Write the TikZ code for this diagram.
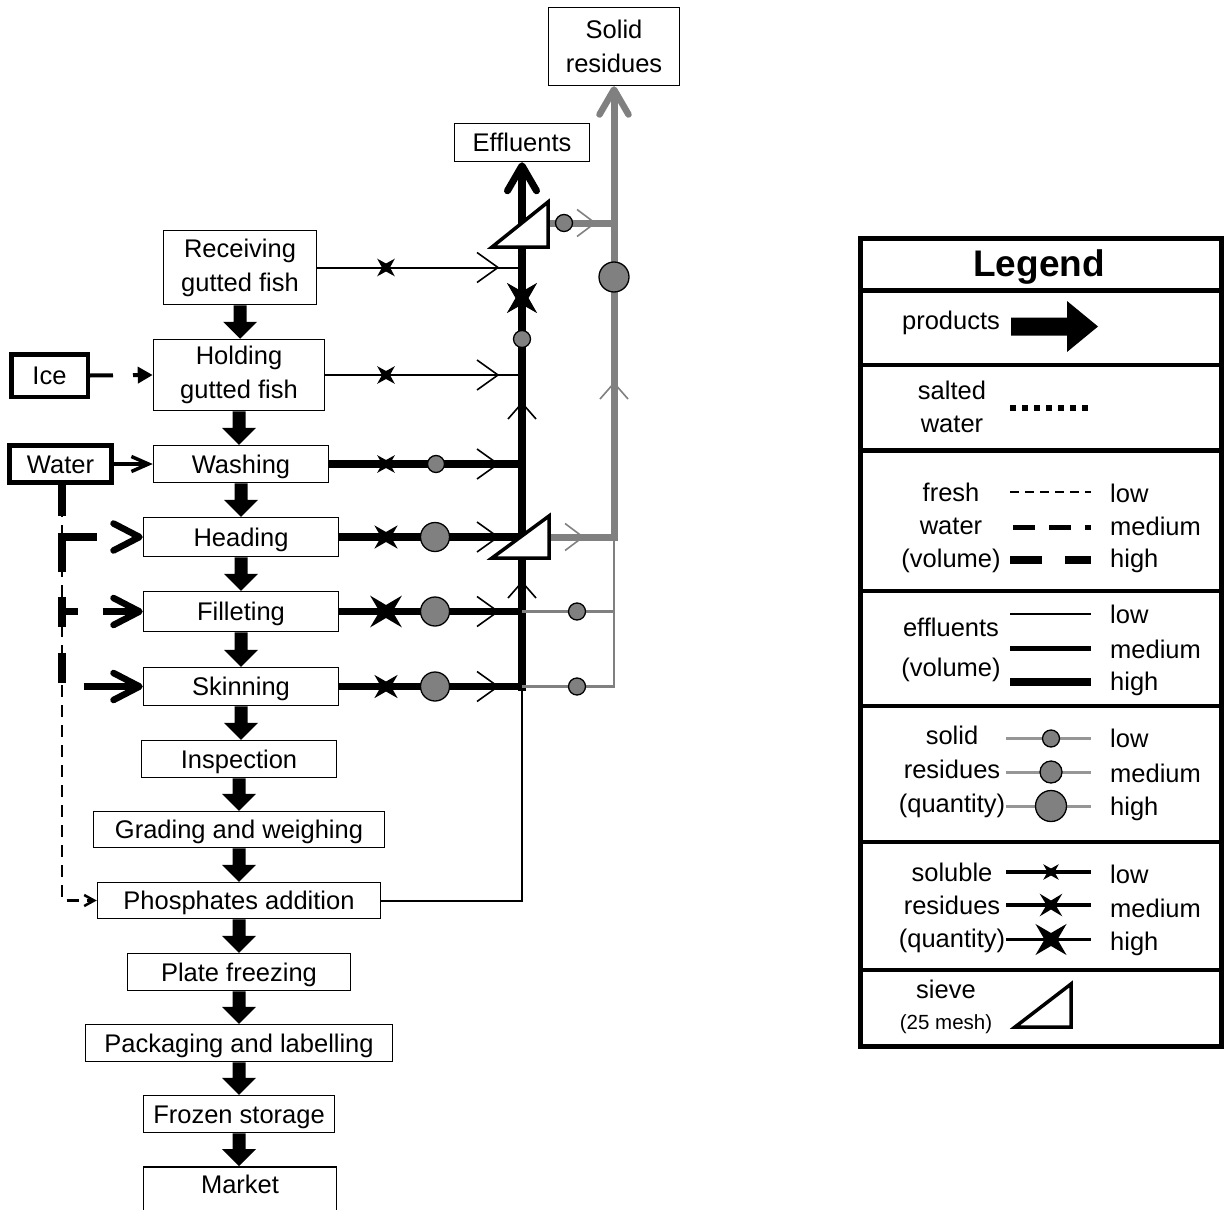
\documentclass[tikz,border=0pt]{standalone}
\usepackage{fontspec}
\setmainfont{Liberation Sans}
\usetikzlibrary{arrows.meta,calc}
\definecolor{gry}{RGB}{128,128,128}
\definecolor{lgry}{RGB}{150,150,150}
\pgfdeclarelayer{bg}
\pgfsetlayers{bg,main}
% product arrow between two boxes
\newcommand\fdprod[2]{\fill let \p1=(#1.south), \p2=(#2.north) in
  (\x1-6.5pt,\y1) -- (\x1+6.5pt,\y1) -- (\x1+6.5pt,\y2+17pt) -- (\x1+17pt,\y2+17pt) --
  (\x1,\y2) -- (\x1-17pt,\y2+17pt) -- (\x1-6.5pt,\y2+17pt) -- cycle;}
% soluble residue star
\newcommand\fdx[3]{\fill (#1) +(45:#2) -- +(90:#3) -- +(135:#2) -- +(180:#3) -- +(225:#2) -- +(270:#3) -- +(315:#2) -- +(0:#3) -- cycle;}
% solid residue dot
\newcommand\fddot[2]{\filldraw[fill=gry, draw=black, line width=1.3pt] (#1) circle[radius=#2pt];}
% flow chevrons
\newcommand\fdchevR[2]{\draw[line width=1.6pt,#2] (#1) ++(-21,-15) -- ++(21,15) -- ++(-21,15);}
\newcommand\fdchevRs[2]{\draw[line width=1.6pt,#2] (#1) ++(-18,-13.5) -- ++(18,13.5) -- ++(-18,13.5);}
\newcommand\fdchevU[2]{\draw[line width=1.6pt,#2] (#1) ++(-14,16) -- ++(14,-16) -- ++(14,16);}
\begin{document}
\begin{tikzpicture}[x=1pt,y=-1pt,
  txt/.style={font=\fontsize{25.5}{34}\selectfont, align=center, inner sep=0pt},
  box/.style={txt, draw, line width=1.5pt, fill=white},
  one/.style={text height=18pt, text depth=0pt},
  effL/.style={line width=2pt},
  effH/.style={line width=7.5pt},
  grT/.style={gry, line width=7pt},
  grt/.style={gry, line width=2.5pt},
  wH/.style={line width=7.5pt, -{Straight Barb[length=26pt,width=27pt,line width=6.5pt,round]}},
  lab/.style={txt, anchor=base west},
]
\useasboundingbox (0,0) rectangle (1225,1209);

% ---------------- process boxes
\node[box, minimum width=153pt, minimum height=74pt] (recv) at (240,267.5) {Receiving\\gutted fish};
\node[box, minimum width=171pt, minimum height=71pt] (hold) at (239,375) {Holding\\gutted fish};
\node[box, one, minimum width=175pt, minimum height=37pt] (wash) at (241,464) {Washing};
\node[box, one, minimum width=195pt, minimum height=39pt] (head) at (241,537) {Heading};
\node[box, one, minimum width=195pt, minimum height=40pt] (fillet) at (241,611.5) {Filleting};
\node[box, one, minimum width=195pt, minimum height=38pt] (skin) at (241,686.5) {Skinning};
\node[box, one, minimum width=195pt, minimum height=37pt] (insp) at (239,759) {Inspection};
\node[box, one, minimum width=291pt, minimum height=36pt] (grade) at (239,829.5) {Grading and weighing};
\node[box, one, minimum width=283pt, minimum height=36pt] (phos) at (239,900.5) {Phosphates addition};
\node[box, one, minimum width=223pt, minimum height=37pt] (plate) at (239,972) {Plate freezing};
\node[box, one, minimum width=307pt, minimum height=37pt] (pack) at (239,1043) {Packaging and labelling};
\node[box, one, minimum width=191pt, minimum height=37pt] (froz) at (239,1114) {Frozen storage};
\node[box, minimum width=193pt, minimum height=54pt, anchor=north, text height=14pt, text depth=14pt] (mkt) at (240,1166) {Market};

\node[box, one, line width=4.5pt, minimum width=76.5pt, minimum height=42.5pt] (ice) at (49.5,375.5) {Ice};
\node[box, one, line width=5pt, minimum width=102pt, minimum height=37pt] (water) at (60.5,464) {Water};
\node[box, one, minimum width=135pt, minimum height=38pt] (effl) at (522,142.5) {Effluents};
\node[box, minimum width=131pt, minimum height=78pt] (solid) at (614,46.5) {Solid\\residues};

\coordinate (sv1) at (522,224.5);
\coordinate (sv1e) at (548,223);
\coordinate (sv2) at (522,537);
\coordinate (sv2e) at (549,537);
\coordinate (wv) at ([xshift=1.5pt]water.south);
\coordinate (cbot) at ($(skin.east -| effl.south)+(0,4)$);

% ---------------- product arrows
\fdprod{recv}{hold}
\fdprod{hold}{wash}
\fdprod{wash}{head}
\fdprod{head}{fillet}
\fdprod{fillet}{skin}
\fdprod{skin}{insp}
\fdprod{insp}{grade}
\fdprod{grade}{phos}
\fdprod{phos}{plate}
\fdprod{plate}{pack}
\fdprod{pack}{froz}
\fdprod{froz}{mkt}

\begin{pgfonlayer}{bg}
% effluents
\draw[effL] (recv.east) -- (recv.east -| effl.south);
\draw[effL] (hold.east) -- (hold.east -| effl.south);
\draw[effH] (wash.east) -- (wash.east -| effl.south);
\draw[effH] (head.east) -- (sv2);
\draw[effH] (fillet.east) -- (fillet.east -| effl.south);
\draw[effH] (skin.east) -- (skin.east -| effl.south);
\draw[effL] (phos.east) -| (skin.east -| effl.south);
\draw[line width=8pt, -{Straight Barb[length=25pt,width=29pt,line width=7pt,round]}] (cbot) -- (effl.south);
% solid residues
\draw[grT] (sv1e) -- (sv1e -| solid.south);
\draw[grT, -{Straight Barb[length=25pt,width=29pt,line width=6.5pt,round]}] (sv2e) -| (solid.south);
\draw[grt] (fillet.east -| effl.south) -- (fillet.east -| solid.south);
\draw[grt] (skin.east -| effl.south) -| (sv2e -| solid.south);
% water
\draw[line width=4pt, dash pattern=on 23pt off 20pt, -{Triangle[length=15pt,width=16pt]}] (ice.east) -- (hold.west);
\draw[line width=4pt, -{Straight Barb[length=17pt,width=15pt,line width=3.5pt]}] (water.east) -- (wash.west);
\draw[line width=2.5pt, dash pattern=on 12pt off 8pt, -{Straight Barb[length=10pt,width=11pt,line width=2.5pt]}] (wv) |- (phos.west);
\draw[wH, dash pattern=on 31pt off 17pt on 39pt off 100pt] (wv) |- (head.west);
\draw[wH, dash pattern=on 31pt off 17pt on 39pt off 25pt on 30pt off 25pt on 200pt] (wv) |- (fillet.west);
\draw[wH, dash pattern=on 31pt off 17pt on 39pt off 25pt on 30pt off 26pt on 30pt off 25pt on 200pt] (wv) |- (skin.west);
\end{pgfonlayer}

% sieves
\filldraw[fill=white, line width=3.5pt] (sv1) ++(-30,22.5) -- ++(56,0) -- ++(0,-45) -- cycle;
\filldraw[fill=white, line width=3.5pt] (sv2) ++(-30,21) -- ++(57,0) -- ++(0,-42) -- cycle;

% markers: chevrons
\foreach \yy in {267.5,375,464,537,611.5,686.5} {\fdchevR{498,\yy}{black}}
\fdchevU{522,403}{black}
\fdchevU{522,582}{black}
\fdchevU{614,383}{gry}
\fdchevRs{583,537}{gry}
\fdchevRs{595,223}{gry}
% soluble residues
\fdx{386,267.5}{12.5}{4}
\fdx{386,375}{12.5}{4}
\fdx{386,464}{12.5}{4}
\fdx{386,537}{16.5}{5}
\fdx{386,611.5}{22.5}{6.5}
\fdx{386,686.5}{16.5}{5}
\fdx{522,298}{21.5}{6.5}
% solid residues
\fddot{436,464}{8.5}
\fddot{435,537}{14.5}
\fddot{435,611.5}{14.5}
\fddot{435,686.5}{14.5}
\fddot{522,339}{8.5}
\fddot{614,277}{15}
\fddot{564,223}{8.5}
\fddot{577,611.5}{8.5}
\fddot{577,686.5}{8.5}

% ---------------- legend
\draw[line width=5pt] (860.5,238) rectangle (1221.5,1046.5);
\foreach \yy in {290.5,365,450.5,591,706,842,970} {\draw[line width=4.5pt] (860.5,\yy) -- (1221.5,\yy);}
\node[font=\bfseries\fontsize{37}{40}\selectfont, inner sep=0pt] (lgtitle) at (1039,267) {Legend};
\node[txt] (lgprod) at (951,323) {products};
\fill (1011,317.5) -- (1067,317.5) -- (1067,301) -- (1098,326.5) -- (1067,352) -- (1067,335.5) -- (1011,335.5) -- cycle;
\node[txt, font=\fontsize{25.5}{33}\selectfont] (lgsalt) at (952,407) {salted\\water};
\draw[line width=6pt, dash pattern=on 6pt off 6pt] (1010,408) -- (1090,408);
\node[txt, font=\fontsize{25.5}{33}\selectfont] (lgfresh) at (951,528) {fresh\\water\\(volume)};
\draw[line width=2pt, dash pattern=on 9pt off 6pt] (1010,492) -- (1091,492);
\draw[line width=5pt, dash pattern=on 22pt off 14pt] (1013,527) -- (1091,527);
\draw[line width=7.5pt, dash pattern=on 32pt off 23pt] (1010,560) -- (1091,560);
\node[txt, font=\fontsize{25.5}{40}\selectfont] (lgeff) at (951,650) {effluents\\(volume)};
\draw[line width=2pt] (1010,614) -- (1091,614);
\draw[line width=5pt] (1010,648) -- (1091,648);
\draw[line width=8pt] (1010,682) -- (1091,682);
\node[txt] (lgsolid) at (952,772) {solid\\residues\\(quantity)};
\foreach \yy/\rr in {738.5/8.5,772/11,806/15.5} {\draw[lgry, line width=3pt] (1006,\yy) -- (1091,\yy); \fddot{1051,\yy}{\rr}}
\node[txt, font=\fontsize{25.5}{33}\selectfont] (lgsolub) at (952,908) {soluble\\residues\\(quantity)};
\foreach \yy/\ra/\rb in {872/11/3.5,905/16/4.5,939.5/22/6.5} {\draw[line width=3.5pt] (1006,\yy) -- (1091,\yy); \fdx{1051,\yy}{\ra}{\rb}}
\node[txt] (lgsieve) at (946,1007) {sieve\\[-3pt]{\fontsize{20.5}{24}\selectfont(25 mesh)}};
\filldraw[fill=white, line width=3.5pt] (1015,1027) -- (1071,1027) -- (1071,984) -- cycle;
% level labels
\foreach \nm/\yy/\tx in {a1/502/low,a2/535/medium,a3/567/high,
                         b1/623/low,b2/658/medium,b3/690/high,
                         c1/747/low,c2/782/medium,c3/815/high,
                         d1/883/low,d2/917/medium,d3/950/high}
  {\node[lab] (lv\nm) at (1110,\yy) {\tx};}
\end{tikzpicture}
\end{document}
